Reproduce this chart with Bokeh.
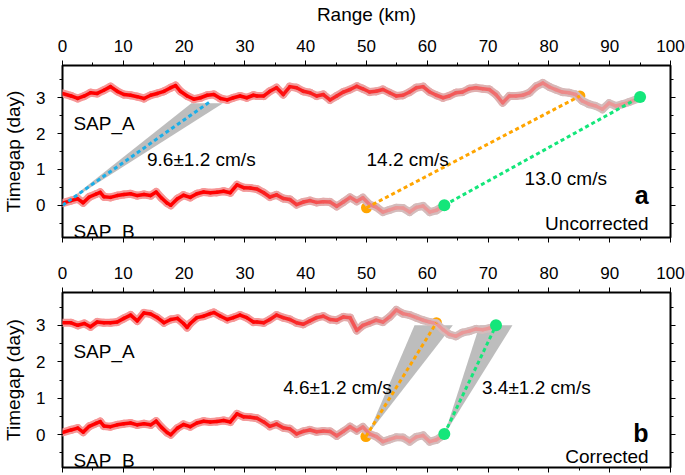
import numpy as np
from bokeh.plotting import figure
from bokeh.models import Range1d, LinearAxis, SingleIntervalTicker, ColumnDataSource, Label
from bokeh.layouts import column
from bokeh.embed import file_html
from bokeh.resources import INLINE

FONT = "Liberation Sans"

# ---------------- data ----------------
# panel a (uncorrected) SAP_A trace: range (km), timegap (day)
a_sapA_km = [0.0, 1.4, 2.5, 3.6, 4.6, 5.7, 6.8, 7.9, 9.0, 10.1, 11.2, 12.3, 13.4, 14.5, 15.6,
             16.7, 17.8, 18.6, 19.4, 20.5, 21.6, 22.7, 23.8, 24.9, 26.0, 27.1, 28.1, 29.2,
             30.3, 31.4, 32.0, 33.1, 34.1, 35.2, 36.3, 37.4, 38.5, 39.6, 40.7, 41.8, 42.9,
             44.0, 45.1, 46.2, 47.3, 48.4, 49.4, 50.5, 51.6, 52.7, 53.8, 54.9, 56.0, 57.1,
             58.2, 59.3, 60.4, 61.5, 62.6, 63.6, 64.7, 65.8, 66.9, 68.0, 69.1, 70.2, 71.3,
             72.4, 73.5, 74.6, 75.7, 76.8, 77.9, 79.0, 80.1, 81.1, 82.2, 83.3, 84.4, 85.5,
             86.6, 87.7, 88.8, 89.9, 91.0, 92.1, 93.2, 94.3]
a_sapA_day = [3.12, 3.05, 2.98, 3.05, 3.14, 3.12, 3.21, 3.31, 3.18, 3.09, 3.07, 3.03, 2.98, 3.07,
              3.12, 3.18, 3.28, 3.34, 3.18, 3.05, 2.96, 3.00, 3.07, 3.09, 2.98, 2.94, 3.00,
              3.05, 3.00, 3.07, 3.05, 3.05, 3.18, 3.28, 3.09, 3.31, 3.28, 3.18, 3.14, 3.05,
              3.09, 2.94, 3.05, 3.16, 3.23, 3.32, 3.25, 3.16, 3.18, 3.23, 3.14, 3.05, 3.07,
              3.16, 3.28, 3.31, 3.16, 3.07, 3.00, 3.05, 3.14, 3.16, 3.25, 3.28, 3.25, 3.23,
              3.09, 2.86, 3.05, 3.05, 3.07, 3.14, 3.32, 3.41, 3.30, 3.23, 3.16, 3.14, 3.09,
              2.91, 2.82, 2.77, 2.68, 2.85, 2.77, 2.82, 2.88, 2.95]

# SAP_B trace (same in both panels)
sapB_km = [0.0, 1.4, 2.5, 3.4, 4.4, 5.5, 6.2, 6.8, 7.9, 9.0, 10.1, 11.2, 12.3, 13.4, 14.5,
           15.4, 16.3, 17.2, 17.8, 18.9, 19.9, 21.0, 22.1, 23.2, 24.3, 25.4, 26.5, 27.6,
           28.7, 29.8, 30.9, 32.0, 33.1, 34.1, 35.2, 36.3, 37.4, 38.5, 39.6, 40.7, 41.8,
           42.9, 44.0, 45.1, 46.2, 47.3, 48.4, 49.4, 50.5, 51.6, 52.7, 53.8, 54.9, 56.0,
           57.1, 58.2, 59.3, 60.4, 61.5, 62.6]
sapB_day = [0.06, 0.13, 0.18, 0.07, 0.23, 0.31, 0.36, 0.24, 0.22, 0.27, 0.30, 0.32, 0.27, 0.30,
            0.27, 0.37, 0.20, 0.06, 0.00, 0.18, 0.28, 0.22, 0.32, 0.37, 0.35, 0.36, 0.39,
            0.35, 0.57, 0.49, 0.48, 0.45, 0.35, 0.23, 0.29, 0.19, 0.16, 0.02, 0.09, 0.13,
            0.08, 0.10, 0.09, -0.03, 0.09, 0.22, 0.11, 0.21, 0.02, -0.05, -0.19, -0.13,
            -0.07, -0.08, -0.19, -0.06, -0.02, -0.19, -0.14, -0.02]

# panel b (corrected) SAP_A trace
b_sapA_km = [0.0, 1.4, 2.5, 3.6, 4.6, 5.7, 6.8, 7.9, 9.0, 10.1, 11.2, 12.3, 13.4, 14.5, 15.6,
             16.7, 17.8, 18.9, 19.9, 20.5, 21.0, 22.1, 23.2, 24.3, 24.9, 26.0, 27.1, 28.1,
             29.2, 30.3, 31.4, 32.0, 33.1, 34.1, 35.2, 36.3, 37.4, 38.5, 39.6, 40.7, 41.8,
             42.9, 44.0, 45.1, 46.2, 47.3, 48.4, 49.4, 50.5, 51.6, 52.7, 53.8, 54.9, 56.0,
             57.1, 58.2, 59.3, 60.4, 61.5, 62.6, 63.6, 64.7, 65.8, 66.9, 68.0, 69.1, 70.2, 71.3]
b_sapA_day = [3.07, 3.07, 3.00, 3.05, 2.96, 3.09, 3.07, 3.07, 3.09, 3.19, 3.28, 3.12, 3.34, 3.31,
              3.21, 3.07, 3.16, 3.19, 3.05, 2.94, 3.05, 3.21, 3.25, 3.32, 3.35, 3.25, 3.16,
              3.21, 3.28, 3.21, 3.09, 3.09, 3.07, 3.16, 3.28, 3.21, 3.16, 3.07, 3.03, 3.12,
              3.21, 3.25, 3.16, 3.14, 3.23, 3.21, 2.86, 3.00, 3.07, 3.14, 3.09, 3.23, 3.42,
              3.32, 3.28, 3.21, 3.14, 3.09, 3.05, 2.88, 2.75, 2.70, 2.80, 2.84, 2.90, 2.88,
              2.92, 2.98]

# velocity lines: (km start, km end), (day start, day end)
a_blue_km, a_blue_day = [0.0, 24.5], [0.0, 2.92]
a_orange_km, a_orange_day = [50.0, 85.1], [-0.07, 3.05]
a_green_km, a_green_day = [62.8, 95.0], [0.0, 3.02]
b_orange_km, b_orange_day = [49.9, 61.5], [-0.05, 3.07]
b_green_km, b_green_day = [62.8, 71.3], [0.02, 3.0]

# uncertainty wedges (apex, two upper corners)
a_wedge_km, a_wedge_day = [0.0, 21.2, 26.4], [0.0, 2.85, 2.85]
b_wedge1_km, b_wedge1_day = [50.2, 57.9, 64.2], [0.0, 3.0, 3.0]
b_wedge2_km, b_wedge2_day = [62.8, 68.6, 74.0], [0.0, 3.0, 3.0]

BLUE = "#1aaee8"
ORANGE = "#ffa500"
GREEN = "#14e67a"
WEDGE = "#bdbdbd"


def mix(c1, c2, t):
    return "#%02x%02x%02x" % tuple(int(round(a + (b - a) * t)) for a, b in zip(c1, c2))


def draw_trace(p, km, day, f0, f1):
    km = np.asarray(km, dtype=float)
    day = np.asarray(day, dtype=float)
    xm = (km[:-1] + km[1:]) / 2
    t = np.clip((xm - f0) / (f1 - f0), 0, 1)
    halo = [mix((246, 150, 150), (212, 188, 188), ti) for ti in t]
    core = [mix((255, 0, 0), (234, 152, 152), ti) for ti in t]
    src = ColumnDataSource(dict(x0=km[:-1], y0=day[:-1], x1=km[1:], y1=day[1:],
                                halo=halo, core=core))
    p.segment("x0", "y0", "x1", "y1", source=src, line_color="halo", line_width=8,
              line_cap="round")
    p.segment("x0", "y0", "x1", "y1", source=src, line_color="core", line_width=3.5,
              line_cap="round")


def style_axis(ax, labels=True):
    ax.axis_line_color = None
    ax.major_tick_line_color = "black"
    ax.minor_tick_line_color = "black"
    ax.major_tick_out = 5
    ax.major_tick_in = 0
    ax.minor_tick_out = 3
    ax.minor_tick_in = 0
    ax.major_label_text_font = FONT
    ax.axis_label_text_font = FONT
    ax.axis_label_text_font_style = "normal"
    ax.axis_label_text_font_size = "19px"
    ax.axis_label_text_color = "black"
    if labels:
        ax.major_label_text_font_size = "17px"
        ax.major_label_text_color = "black"
    else:
        ax.major_label_text_font_size = "1px"
        ax.major_label_text_color = None
        ax.major_label_standoff = 0


def make_panel(height, top_border):
    p = figure(width=685, height=height, x_range=Range1d(0, 100), y_range=Range1d(-0.9, 3.9),
               output_backend="svg", toolbar_location=None,
               x_axis_location=None, y_axis_location=None,
               min_border_left=60, min_border_right=15,
               min_border_top=top_border, min_border_bottom=8)
    p.grid.visible = False
    p.outline_line_color = "black"
    p.outline_line_width = 2
    p.background_fill_color = "white"
    p.border_fill_color = "white"

    top = LinearAxis(ticker=SingleIntervalTicker(interval=10, num_minor_ticks=2))
    style_axis(top)
    top.major_label_standoff = 9
    p.add_layout(top, "above")
    bot = LinearAxis(ticker=SingleIntervalTicker(interval=10, num_minor_ticks=2))
    style_axis(bot, labels=False)
    p.add_layout(bot, "below")

    left = LinearAxis(ticker=SingleIntervalTicker(interval=1, num_minor_ticks=2),
                      axis_label="Timegap (day)")
    style_axis(left)
    left.major_label_standoff = 12
    left.axis_label_standoff = 9
    p.add_layout(left, "left")
    right = LinearAxis(ticker=SingleIntervalTicker(interval=1, num_minor_ticks=2))
    style_axis(right, labels=False)
    p.add_layout(right, "right")
    return p


def label(p, x, y, text, size="19px", align="left", bold=False):
    p.add_layout(Label(x=x, y=y, text=text, text_font=FONT, text_font_size=size,
                       text_align=align, text_baseline="alphabetic", text_color="black",
                       text_font_style="bold" if bold else "normal"))


def dotted(p, xs, ys, color):
    p.line(xs, ys, line_color=color, line_width=3, line_dash="4 3")


# ---------------- panel a ----------------
pa = make_panel(245, 62)
pa.xaxis[0].axis_label = "Range (km)"
pa.xaxis[0].axis_label_standoff = 12
pa.patch(a_wedge_km, a_wedge_day, fill_color=WEDGE, line_color=None)
pa.scatter(a_orange_km, a_orange_day, size=11, fill_color=ORANGE, line_color=None)
draw_trace(pa, a_sapA_km, a_sapA_day, 30, 88)
draw_trace(pa, sapB_km, sapB_day, 28, 55)
dotted(pa, a_blue_km, a_blue_day, BLUE)
dotted(pa, a_orange_km, a_orange_day, ORANGE)
dotted(pa, a_green_km, a_green_day, GREEN)
pa.scatter(a_green_km, a_green_day, size=12, fill_color=GREEN, line_color=None)
label(pa, 1.8, 2.27, "SAP_A")
label(pa, 1.8, -0.73, "SAP_B")
label(pa, 13.9, 1.29, "9.6±1.2 cm/s")
label(pa, 50.0, 1.29, "14.2 cm/s")
label(pa, 76.0, 0.76, "13.0 cm/s")
label(pa, 96.4, 0.30, "a", size="25px", align="right", bold=True)
label(pa, 96.4, -0.52, "Uncorrected", align="right")

# ---------------- panel b ----------------
pb = make_panel(230, 47)
pb.patch(b_wedge1_km, b_wedge1_day, fill_color=WEDGE, line_color=None)
pb.patch(b_wedge2_km, b_wedge2_day, fill_color=WEDGE, line_color=None)
pb.scatter(b_orange_km, b_orange_day, size=11, fill_color=ORANGE, line_color=None)
draw_trace(pb, b_sapA_km, b_sapA_day, 30, 62)
draw_trace(pb, sapB_km, sapB_day, 28, 55)
dotted(pb, b_orange_km, b_orange_day, ORANGE)
dotted(pb, b_green_km, b_green_day, GREEN)
pb.scatter(b_green_km, b_green_day, size=12, fill_color=GREEN, line_color=None)
label(pb, 1.8, 2.27, "SAP_A")
label(pb, 1.8, -0.72, "SAP_B")
label(pb, 36.3, 1.30, "4.6±1.2 cm/s")
label(pb, 69.0, 1.30, "3.4±1.2 cm/s")
label(pb, 96.4, 0.06, "b", size="25px", align="right", bold=True)
label(pb, 96.4, -0.60, "Corrected", align="right")

layout = column(pa, pb, spacing=0)
open("out.html", "w").write(file_html(layout, INLINE))
